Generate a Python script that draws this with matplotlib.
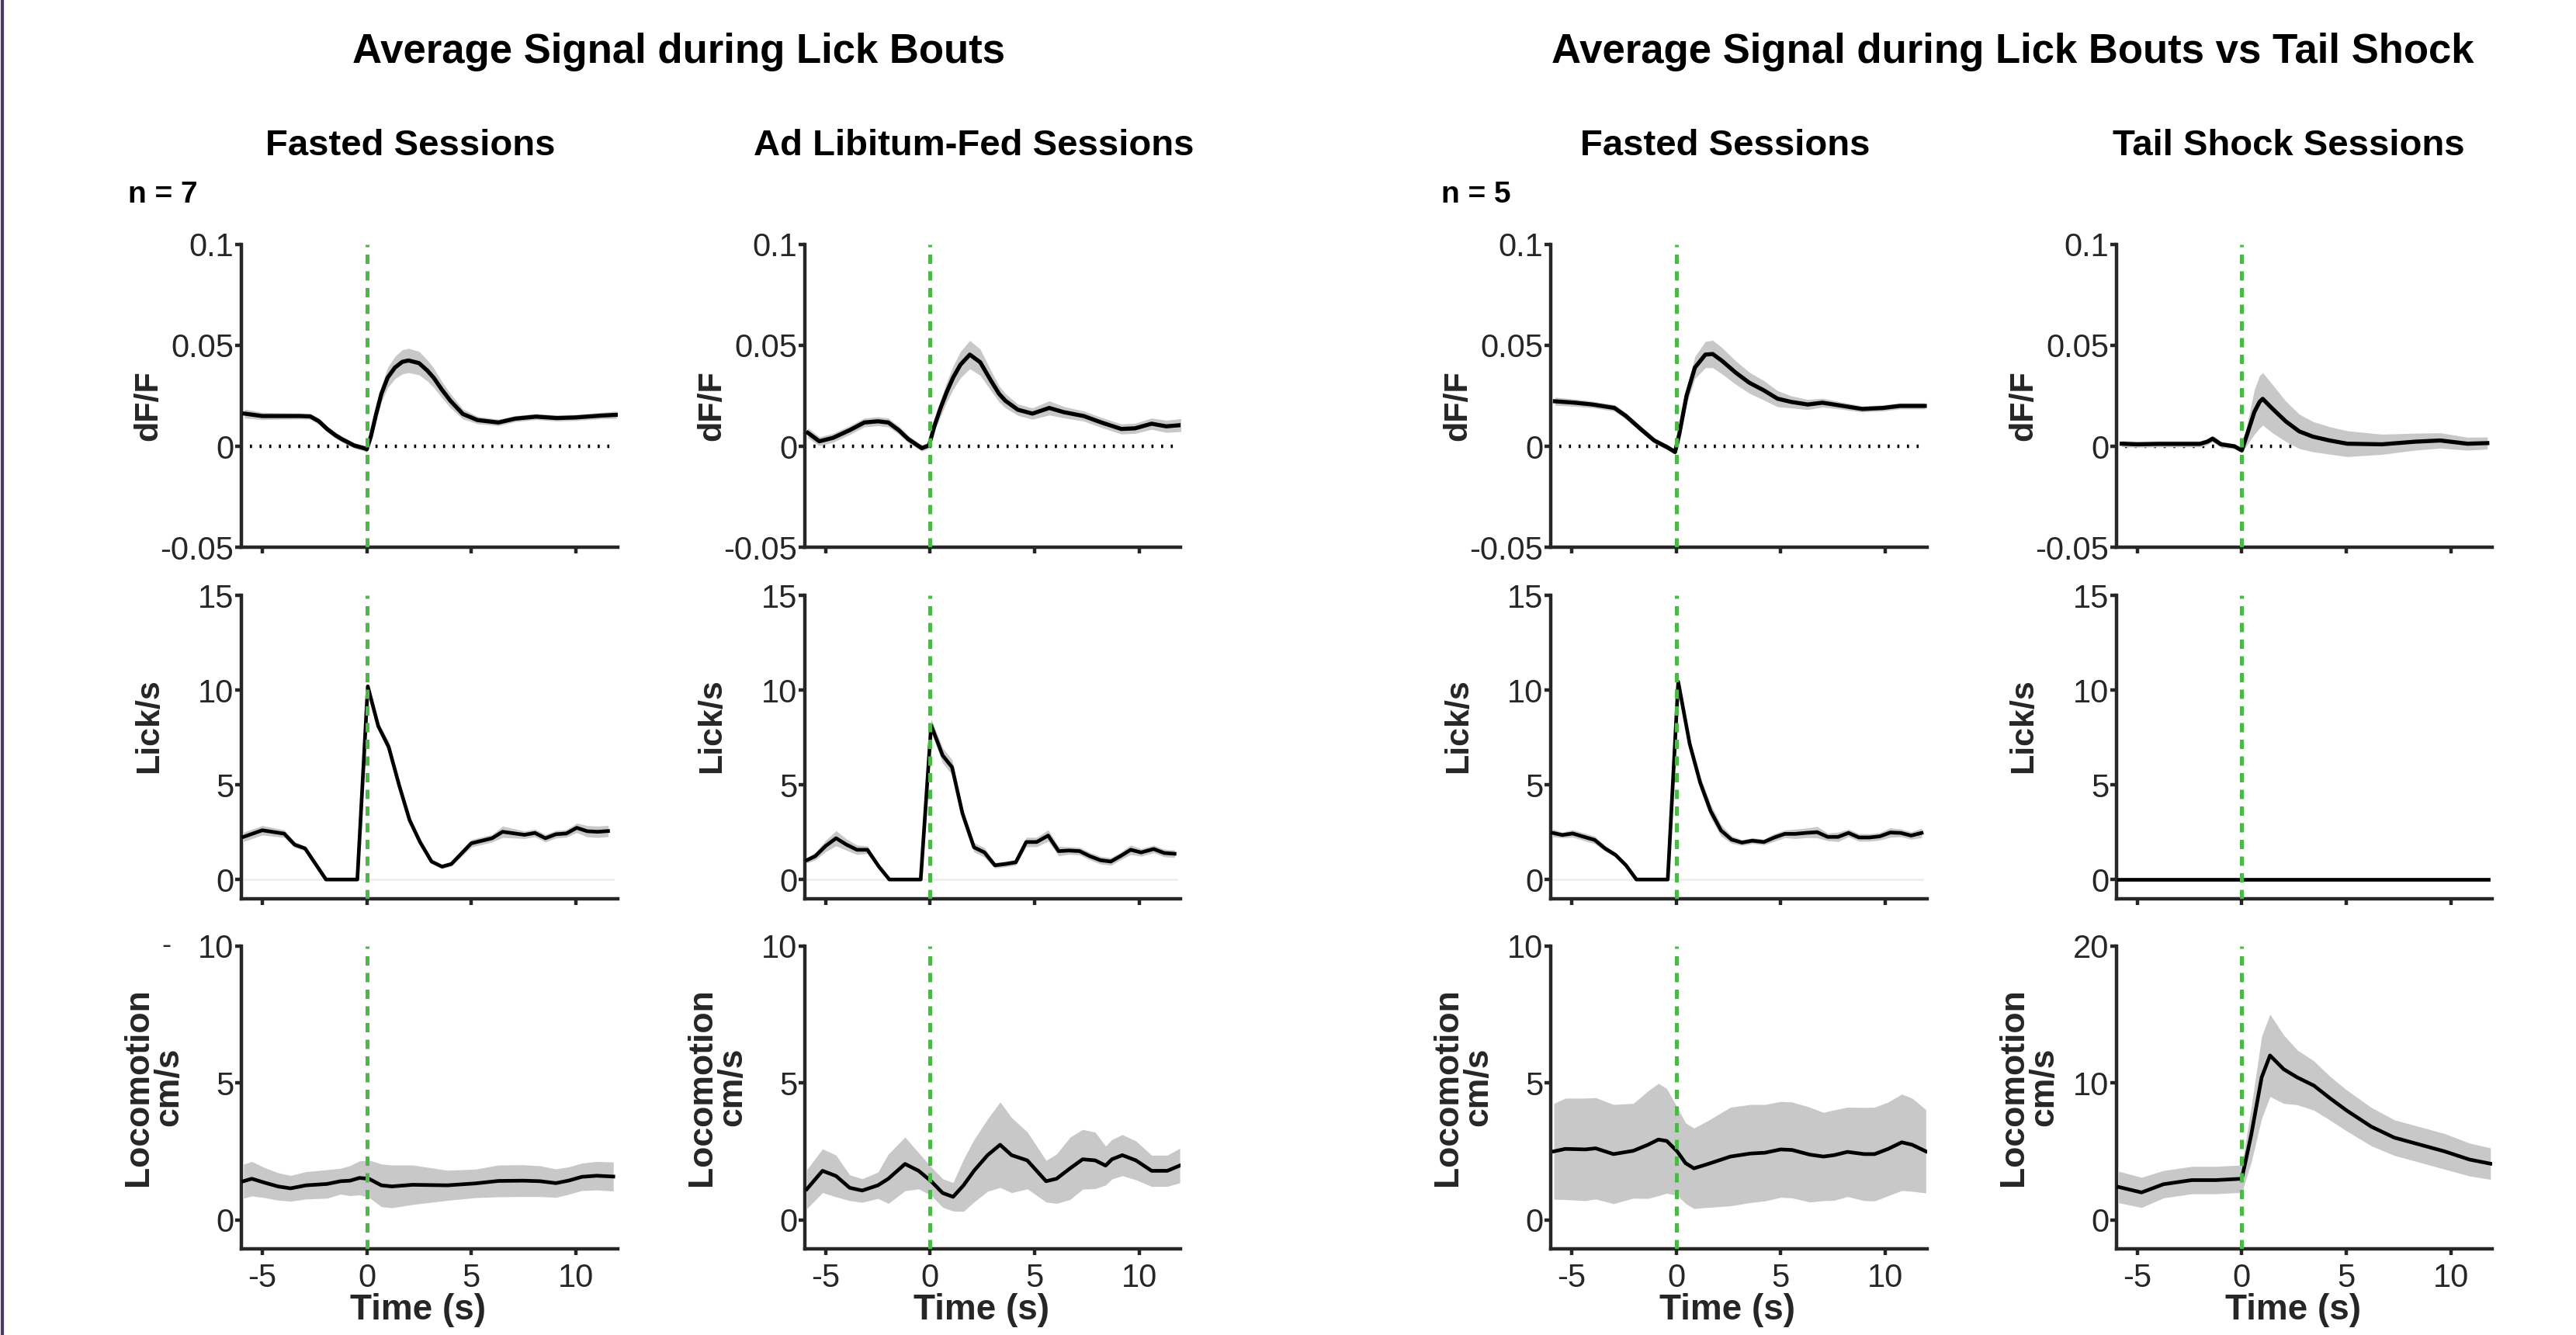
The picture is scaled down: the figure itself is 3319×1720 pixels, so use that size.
import numpy as np
import matplotlib.pyplot as plt
from matplotlib.lines import Line2D

plt.rcParams['font.family'] = ['Liberation Sans', 'DejaVu Sans']

# ---- values: time (s), mean trace, sem half-width ----

# dF/F, fasted sessions (n = 7)
t_dff_fast7 = [-5.85, -5.0, -4.0, -3.2, -2.7, -2.3, -1.9, -1.5, -1.2, -0.6, -0.1, 0.0, 0.2, 0.45, 0.7, 1.0, 1.35,
               1.7, 2.0, 2.5, 2.9, 3.2, 3.6, 4.0, 4.6, 5.3, 6.3, 7.1, 8.1, 9.1, 10.0, 11.2, 11.95]
dff_fast7 = [0.0162, 0.0150, 0.0150, 0.0150, 0.0148, 0.0125, 0.0086, 0.0055, 0.0036, 0.0004, -0.0010, -0.0015,
             0.0050, 0.0160, 0.0260, 0.0340, 0.0390, 0.0418, 0.0425, 0.0412, 0.0375, 0.0340, 0.0280, 0.0226,
             0.0160, 0.0130, 0.0118, 0.0137, 0.0147, 0.0140, 0.0143, 0.0152, 0.0156]
dff_fast7_sem = [0.0022, 0.0018, 0.0016, 0.0015, 0.0015, 0.0015, 0.0015, 0.0015, 0.0015, 0.0014, 0.0014, 0.0014,
                 0.0020, 0.0030, 0.0040, 0.0050, 0.0055, 0.0060, 0.0060, 0.0058, 0.0052, 0.0048, 0.0040, 0.0035,
                 0.0025, 0.0018, 0.0016, 0.0015, 0.0015, 0.0015, 0.0015, 0.0016, 0.0018]

# dF/F, ad libitum-fed sessions
t_dff_adlib = [-5.85, -5.3, -4.65, -3.85, -3.15, -2.5, -2.0, -1.5, -1.05, -0.4, -0.05, 0.2, 0.5, 0.8, 1.1, 1.45,
               1.9, 2.4, 2.9, 3.3, 3.6, 4.2, 4.9, 5.7, 6.4, 7.35, 8.2, 9.15, 9.8, 10.6, 11.3, 12.0]
dff_adlib = [0.0067, 0.0025, 0.0042, 0.0080, 0.0118, 0.0124, 0.0118, 0.0080, 0.0036, -0.0009, 0.0005, 0.0099,
             0.0190, 0.0270, 0.0340, 0.0404, 0.0454, 0.0416, 0.0327, 0.0260, 0.0226, 0.0181, 0.0162, 0.0190,
             0.0169, 0.0150, 0.0118, 0.0086, 0.0089, 0.0112, 0.0099, 0.0105]
dff_adlib_sem = [0.0025, 0.0022, 0.0022, 0.0022, 0.0022, 0.0022, 0.0022, 0.0020, 0.0018, 0.0015, 0.0015, 0.0025,
                 0.0040, 0.0050, 0.0058, 0.0065, 0.0070, 0.0065, 0.0050, 0.0040, 0.0035, 0.0028, 0.0028, 0.0035,
                 0.0028, 0.0025, 0.0025, 0.0025, 0.0025, 0.0028, 0.0030, 0.0032]

# dF/F, fasted sessions (n = 5)
t_dff_fast5 = [-5.8, -4.85, -4.0, -2.95, -2.4, -1.7, -1.05, -0.4, -0.05, 0.15, 0.5, 0.9, 1.4, 1.75, 2.2, 2.85,
               3.5, 4.2, 4.85, 5.5, 6.3, 7.0, 7.8, 8.9, 9.9, 10.7, 11.9]
dff_fast5 = [0.0223, 0.0216, 0.0207, 0.0190, 0.0150, 0.0086, 0.0029, -0.0006, -0.0028, 0.0060, 0.0251, 0.0390,
             0.0454, 0.0457, 0.0423, 0.0365, 0.0315, 0.0277, 0.0236, 0.0220, 0.0207, 0.0216, 0.0203, 0.0185,
             0.0190, 0.0200, 0.0200]
dff_fast5_sem = [0.0020, 0.0018, 0.0016, 0.0016, 0.0016, 0.0015, 0.0014, 0.0013, 0.0013, 0.0020, 0.0040, 0.0055,
                 0.0065, 0.0068, 0.0065, 0.0058, 0.0052, 0.0048, 0.0040, 0.0030, 0.0025, 0.0022, 0.0018, 0.0015,
                 0.0015, 0.0015, 0.0015]

# dF/F, tail shock sessions
t_dff_shock = [-5.75, -5.0, -4.0, -3.0, -2.0, -1.65, -1.4, -1.0, -0.35, 0.0, 0.3, 0.6, 0.85, 1.0, 1.45, 2.1,
               2.75, 3.4, 4.2, 5.05, 6.7, 8.3, 9.5, 10.8, 11.75]
dff_shock = [0.0013, 0.0010, 0.0012, 0.0012, 0.0012, 0.0023, 0.0038, 0.0010, 0.0000, -0.0020, 0.0074, 0.0170,
             0.0220, 0.0235, 0.0188, 0.0124, 0.0074, 0.0048, 0.0029, 0.0013, 0.0010, 0.0023, 0.0029, 0.0013,
             0.0016]
dff_shock_sem = [0.0015, 0.0015, 0.0015, 0.0015, 0.0015, 0.0015, 0.0015, 0.0015, 0.0012, 0.0012, 0.0060, 0.0110,
                 0.0130, 0.0130, 0.0120, 0.0100, 0.0085, 0.0075, 0.0068, 0.0064, 0.0050, 0.0042, 0.0038, 0.0032,
                 0.0030]

# Lick rate (lick/s)
t_lick_fast7 = [-5.9, -5.0, -3.95, -3.45, -2.95, -1.95, -0.45, 0.05, 0.55, 1.05, 1.55, 2.05, 2.55, 3.1, 3.6,
                4.05, 5.0, 6.0, 6.5, 7.55, 8.05, 8.55, 9.05, 9.55, 10.05, 10.55, 11.05, 11.55]
lick_fast7 = [2.25, 2.60, 2.42, 1.84, 1.64, 0.0, 0.0, 10.2, 8.1, 7.0, 4.98, 3.14, 1.98, 0.95, 0.68, 0.82, 1.91,
              2.18, 2.52, 2.36, 2.46, 2.18, 2.39, 2.43, 2.73, 2.55, 2.52, 2.56]
lick_fast7_sem = [0.25, 0.25, 0.2, 0.15, 0.12, 0.0, 0.0, 0.15, 0.2, 0.3, 0.2, 0.15, 0.1, 0.1, 0.1, 0.12, 0.2,
                  0.2, 0.3, 0.2, 0.2, 0.2, 0.2, 0.2, 0.25, 0.3, 0.3, 0.3]

t_lick_adlib = [-5.9, -5.5, -5.0, -4.5, -4.0, -3.5, -3.0, -2.45, -1.95, -0.45, 0.05, 0.6, 1.05, 1.55, 2.1, 2.6,
                3.1, 3.6, 4.1, 4.6, 5.1, 5.65, 6.15, 6.65, 7.15, 7.65, 8.15, 8.65, 9.1, 9.6, 10.1, 10.7, 11.2, 11.7]
lick_adlib = [1.02, 1.23, 1.77, 2.18, 1.84, 1.57, 1.57, 0.68, 0.0, 0.0, 8.14, 6.55, 5.93, 3.48, 1.70, 1.43, 0.75,
              0.82, 0.91, 1.98, 1.98, 2.32, 1.50, 1.53, 1.50, 1.23, 1.02, 0.95, 1.23, 1.57, 1.43, 1.61, 1.40, 1.36]
lick_adlib_sem = [0.15, 0.2, 0.3, 0.4, 0.3, 0.25, 0.2, 0.1, 0.0, 0.0, 0.35, 0.4, 0.4, 0.3, 0.25, 0.25, 0.15, 0.15,
                  0.15, 0.25, 0.25, 0.3, 0.25, 0.2, 0.2, 0.2, 0.2, 0.2, 0.2, 0.25, 0.2, 0.2, 0.2, 0.2]

t_lick_fast5 = [-5.9, -5.45, -4.95, -4.4, -3.9, -3.4, -2.9, -2.4, -1.9, -0.4, 0.1, 0.65, 1.15, 1.65, 2.15, 2.65,
                3.15, 3.65, 4.2, 4.7, 5.2, 5.7, 6.2, 6.75, 7.25, 7.75, 8.25, 8.75, 9.25, 9.75, 10.25, 10.75, 11.25,
                11.75]
lick_fast5 = [2.46, 2.35, 2.43, 2.25, 2.09, 1.64, 1.30, 0.75, 0.0, 0.0, 10.44, 7.16, 5.12, 3.62, 2.59, 2.11, 1.95,
              2.05, 1.98, 2.22, 2.41, 2.41, 2.46, 2.50, 2.25, 2.25, 2.46, 2.22, 2.22, 2.28, 2.48, 2.46, 2.32, 2.46]
lick_fast5_sem = [0.2, 0.15, 0.2, 0.2, 0.2, 0.15, 0.12, 0.1, 0.0, 0.0, 0.25, 0.3, 0.35, 0.35, 0.3, 0.2, 0.15, 0.15,
                  0.15, 0.2, 0.2, 0.25, 0.25, 0.3, 0.2, 0.25, 0.2, 0.2, 0.2, 0.2, 0.25, 0.2, 0.2, 0.25]

t_lick_shock = [-5.9, 11.8]
lick_shock = [0.0, 0.0]
lick_shock_sem = [0.0, 0.0]

# Locomotion (cm/s)
t_loco_fast7 = [-5.9, -5.5, -4.9, -4.25, -3.65, -2.9, -1.9, -1.25, -0.8, -0.35, 0.1, 0.7, 1.2, 2.2, 3.85, 5.2,
                6.3, 7.5, 8.3, 9.05, 9.65, 10.3, 11.0, 11.8]
loco_fast7 = [1.41, 1.50, 1.36, 1.22, 1.15, 1.26, 1.31, 1.41, 1.43, 1.53, 1.50, 1.26, 1.22, 1.28, 1.26, 1.33,
              1.42, 1.43, 1.41, 1.34, 1.43, 1.57, 1.61, 1.58]
loco_fast7_sem = [0.62, 0.63, 0.55, 0.50, 0.47, 0.50, 0.52, 0.47, 0.55, 0.62, 0.68, 0.78, 0.78, 0.72, 0.55, 0.52,
                  0.58, 0.58, 0.56, 0.52, 0.50, 0.50, 0.52, 0.53]

t_loco_adlib = [-5.9, -5.15, -4.5, -3.85, -3.25, -2.5, -2.0, -1.2, -0.55, 0.05, 0.6, 1.1, 1.6, 2.1, 2.75, 3.35,
                3.9, 4.65, 5.55, 6.05, 6.7, 7.3, 7.9, 8.4, 8.7, 9.2, 9.85, 10.6, 11.35, 11.95]
loco_adlib = [1.12, 1.79, 1.60, 1.17, 1.07, 1.26, 1.50, 2.04, 1.79, 1.41, 0.98, 0.84, 1.26, 1.79, 2.36, 2.74,
              2.36, 2.17, 1.41, 1.50, 1.88, 2.21, 2.17, 1.98, 2.21, 2.36, 2.17, 1.79, 1.79, 1.98]
loco_adlib_sem = [0.71, 0.80, 0.76, 0.47, 0.43, 0.48, 0.90, 0.98, 0.66, 0.52, 0.52, 0.52, 0.95, 1.14, 1.32, 1.56,
                  1.37, 1.04, 0.76, 0.90, 1.14, 1.09, 1.03, 0.71, 0.72, 0.75, 0.71, 0.57, 0.57, 0.63]

t_loco_fast5 = [-5.85, -5.3, -4.35, -3.85, -3.0, -2.05, -1.35, -0.85, -0.45, 0.05, 0.45, 0.85, 1.45, 2.6, 3.55,
                4.25, 5.0, 5.55, 6.4, 7.05, 7.55, 8.2, 9.0, 9.5, 10.15, 10.8, 11.3, 11.95]
loco_fast5 = [2.50, 2.59, 2.57, 2.61, 2.40, 2.52, 2.74, 2.93, 2.88, 2.50, 2.07, 1.88, 2.02, 2.31, 2.42, 2.45,
              2.57, 2.55, 2.38, 2.31, 2.36, 2.48, 2.40, 2.40, 2.59, 2.83, 2.74, 2.50]
loco_fast5_sem = [1.75, 1.85, 1.87, 1.85, 1.81, 1.73, 1.96, 2.05, 1.91, 1.61, 1.47, 1.47, 1.57, 1.80, 1.79, 1.76,
                  1.75, 1.75, 1.73, 1.61, 1.65, 1.63, 1.70, 1.71, 1.71, 1.76, 1.70, 1.52]

t_loco_shock = [-5.9, -4.8, -3.75, -2.4, -1.25, 0.0, 0.45, 0.95, 1.35, 2.0, 2.65, 3.45, 4.2, 5.0, 6.2, 7.3, 8.5,
                9.7, 10.9, 11.9]
loco_shock = [2.4, 2.0, 2.6, 2.9, 2.9, 3.0, 6.2, 10.4, 12.0, 11.0, 10.4, 9.8, 8.9, 8.0, 6.8, 6.0, 5.5, 5.0, 4.4, 4.1]
loco_shock_sem = [1.15, 1.1, 1.0, 1.0, 1.0, 1.0, 2.0, 3.0, 3.0, 2.5, 2.0, 1.8, 1.6, 1.5, 1.4, 1.3, 1.3, 1.3, 1.2,
                  1.15]

main_titles = ['Average Signal during Lick Bouts', 'Average Signal during Lick Bouts vs Tail Shock']
col_titles = ['Fasted Sessions', 'Ad Libitum-Fed Sessions', 'Fasted Sessions', 'Tail Shock Sessions']
n_labels = ['n = 7', 'n = 5']

dff_rows = [(t_dff_fast7, dff_fast7, dff_fast7_sem), (t_dff_adlib, dff_adlib, dff_adlib_sem),
            (t_dff_fast5, dff_fast5, dff_fast5_sem), (t_dff_shock, dff_shock, dff_shock_sem)]
lick_rows = [(t_lick_fast7, lick_fast7, lick_fast7_sem), (t_lick_adlib, lick_adlib, lick_adlib_sem),
             (t_lick_fast5, lick_fast5, lick_fast5_sem), (t_lick_shock, lick_shock, lick_shock_sem)]
loco_rows = [(t_loco_fast7, loco_fast7, loco_fast7_sem), (t_loco_adlib, loco_adlib, loco_adlib_sem),
             (t_loco_fast5, loco_fast5, loco_fast5_sem), (t_loco_shock, loco_shock, loco_shock_sem)]

# ---- layout ----
fig = plt.figure(figsize=(33.19, 17.2), dpi=100)
col_left = [0.0937, 0.3124, 0.602, 0.8216]
col_w = 0.146
row_bottom = [0.590, 0.327, 0.0645]
row_h = 0.227

ink = '#262626'
band = '#c8c8c8'
green = '#4cb848'


def style_axis(ax, show_xlabels):
    for side in ['top', 'right']:
        ax.spines[side].set_visible(False)
    for side in ['left', 'bottom']:
        ax.spines[side].set_linewidth(3.2)
        ax.spines[side].set_color(ink)
    ax.set_xlim(-6, 12)
    ax.set_xticks([-5, 0, 5, 10])
    ax.tick_params(direction='out', length=6, width=3.2, color=ink, labelcolor=ink, labelsize=30)
    ax.tick_params(axis='y', pad=1)
    ax.tick_params(axis='x', pad=7)
    if show_xlabels:
        ax.set_xticklabels(['-5', '0', '5', '10'])
        ax.set_xlabel('Time (s)', fontsize=33, fontweight='bold', color=ink)
        ax.xaxis.set_label_coords(0.47, -0.145)
    else:
        ax.set_xticklabels([])
    ax.axvline(0, color=green, lw=3.6, ls=(0, (2.4, 1.9)), zorder=4)


def draw_trace(ax, data, lw):
    t, m, s = (np.array(v) for v in data)
    ax.fill_between(t, m - s, m + s, color=band, lw=0, zorder=2)
    ax.plot(t, m, color='black', lw=lw, zorder=3)


for c in range(4):
    # row 1: dF/F
    ax = fig.add_axes([col_left[c], row_bottom[0], col_w, row_h])
    style_axis(ax, False)
    ax.set_ylim(-0.05, 0.1)
    ax.set_yticks([-0.05, 0, 0.05, 0.1])
    ax.set_yticklabels(['-0.05', '0', '0.05', '0.1'])
    ax.plot([-5.6, 11.8], [0, 0], color='black', lw=3.2, ls=(0, (0.6, 2.2)), zorder=1)
    draw_trace(ax, dff_rows[c], 3.8)
    ax.set_ylabel('dF/F', fontsize=31, fontweight='bold', color=ink)
    ax.yaxis.set_label_coords(-0.205, 0.467)

    # row 2: licks
    ax = fig.add_axes([col_left[c], row_bottom[1], col_w, row_h])
    style_axis(ax, False)
    ax.set_ylim(-1, 15)
    ax.set_yticks([0, 5, 10, 15])
    ax.plot([-6, 11.8], [0, 0], color='#eeeeee', lw=2, zorder=1)
    draw_trace(ax, lick_rows[c], 3.4)
    ax.set_ylabel('Lick/s', fontsize=31, fontweight='bold', color=ink)
    ax.yaxis.set_label_coords(-0.205, 0.57)

    # row 3: locomotion
    ax = fig.add_axes([col_left[c], row_bottom[2], col_w, row_h])
    style_axis(ax, True)
    if c == 3:
        ax.set_ylim(-2.12, 20)
        ax.set_yticks([0, 10, 20])
    else:
        ax.set_ylim(-1.06, 10)
        ax.set_yticks([0, 5, 10])
    draw_trace(ax, loco_rows[c], 3.4)
    ax.set_ylabel('Locomotion\ncm/s', fontsize=32, fontweight='bold', color=ink, linespacing=0.95)
    ax.yaxis.set_label_coords(-0.15, 0.535)
    if c == 0:
        ax.text(-0.2, 10, '-', transform=ax.get_yaxis_transform(), fontsize=26, color=ink,
                ha='center', va='center')

# titles
fig.text(0.2634, 0.961, main_titles[0], fontsize=38, fontweight='bold', ha='center', va='center')
fig.text(0.7814, 0.961, main_titles[1], fontsize=38, fontweight='bold', ha='center', va='center')
for x, title in zip([0.1594, 0.3782, 0.6697, 0.8885], col_titles):
    fig.text(x, 0.8905, title, fontsize=34, fontweight='bold', ha='center', va='center')
fig.text(0.0497, 0.854, n_labels[0], fontsize=28, fontweight='bold', va='center')
fig.text(0.5595, 0.854, n_labels[1], fontsize=28, fontweight='bold', va='center')

# thin border on the left edge
fig.add_artist(Line2D([0.0008, 0.0008], [0, 1], transform=fig.transFigure, color='#4b3b63', lw=3))

fig.savefig('out.png', dpi=100)
